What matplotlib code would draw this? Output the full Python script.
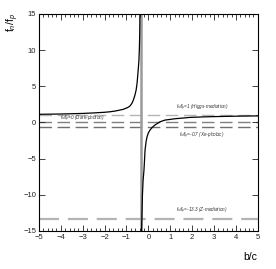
import numpy as np
import matplotlib
matplotlib.use("Agg")
import matplotlib.pyplot as plt
from matplotlib.ticker import MultipleLocator

plt.rcParams["font.family"] = ["Liberation Sans", "DejaVu Sans"]
plt.rcParams["mathtext.fontset"] = "custom"
plt.rcParams["mathtext.rm"] = "Liberation Sans"
plt.rcParams["mathtext.it"] = "Liberation Sans:italic"

# curve: left branch (below the pole) and right branch
left_x = [-5.0, -4.0, -3.0, -2.5, -2.0, -1.75, -1.5, -1.15, -0.95, -0.84, -0.75,
          -0.69, -0.62, -0.56, -0.52, -0.49, -0.46, -0.43, -0.41, -0.395, -0.385]
left_y = [1.12, 1.16, 1.24, 1.31, 1.40, 1.47, 1.58, 1.80, 2.05, 2.26, 2.65,
          3.05, 3.70, 4.45, 5.30, 6.30, 7.40, 8.60, 10.2, 12.2, 15.0]
right_x = [-0.31, -0.29, -0.27, -0.24, -0.2, -0.15, -0.1, -0.06, 0.0, 0.075, 0.18,
           0.3, 0.53, 0.76, 1.2, 1.9, 2.5, 3.0, 4.0, 5.0]
right_y = [-15.0, -12.5, -10.0, -8.0, -6.6, -3.8, -2.6, -2.0, -1.45, -1.07, -0.68,
           -0.37, 0.08, 0.32, 0.50, 0.69, 0.76, 0.80, 0.86, 0.90]

pole_x = -0.33
ref_values = [1, 0, -0.7, -13.3]
ref_colors = ["#b4b4b4", "#808080", "#707070", "#b4b4b4"]
ref_widths = [1.0, 1.0, 1.0, 1.6]

fig = plt.figure(figsize=(2.76, 2.69), dpi=100)
ax = fig.add_axes([0.141, 0.142, 0.793, 0.806])

for v, c, w in zip(ref_values, ref_colors, ref_widths):
    ax.axhline(v, color=c, lw=w, dashes=(9, 4), zorder=1)

ax.axvline(pole_x, color="#9a9a9a", lw=1.8, zorder=1)

ax.plot(left_x, left_y, color="black", lw=0.9, zorder=3)
ax.plot(right_x, right_y, color="black", lw=0.9, zorder=3)

tfs = 3.3
ax.text(2.45, 1.35, r"f$_n$/f$_p$=1 (Higgs-mediation)", fontsize=tfs, style="italic",
        ha="center", va="bottom", color="#333333")
ax.text(-3.0, 0.5, r"f$_n$/f$_p$=0 (Dark-photon)", fontsize=tfs, style="italic",
        ha="center", va="center", color="#333333")
ax.text(2.45, -1.2, r"f$_n$/f$_p$=-0.7 (Xe-phobic)", fontsize=tfs, style="italic",
        ha="center", va="top", color="#333333")
ax.text(2.45, -13.0, r"f$_n$/f$_p$=-13.3 (Z-mediation)", fontsize=tfs, style="italic",
        ha="center", va="bottom", color="#333333")

ax.set_xlim(-5, 5)
ax.set_ylim(-15, 15)
ax.xaxis.set_major_locator(MultipleLocator(1))
ax.xaxis.set_minor_locator(MultipleLocator(0.2))
ax.yaxis.set_major_locator(MultipleLocator(5))
ax.tick_params(axis="both", which="both", direction="in", top=True, right=True,
               labelsize=5.5, width=0.6, colors="#222222", pad=2)
ax.tick_params(which="major", length=4)
ax.tick_params(which="minor", length=2)
for s in ax.spines.values():
    s.set_linewidth(0.8)

fig.text(0.905, 0.045, "b/c", fontsize=7.5, ha="center", va="center")
fig.text(0.045, 0.915, r"f$_n$/f$_p$", fontsize=7.5, rotation=90, ha="center", va="center")

fig.savefig("out.png", dpi=100)
